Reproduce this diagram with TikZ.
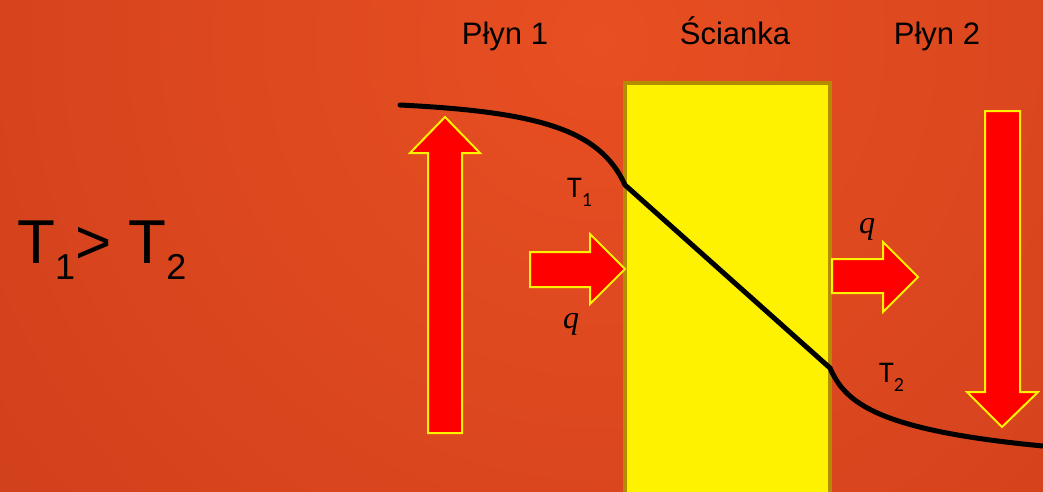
\documentclass[tikz,border=0pt]{standalone}
\usepackage{fontspec}
\setmainfont{Liberation Sans}
\newfontfamily\labelfont{Carlito}
\newfontfamily\fluxfont{Liberation Serif}
\definecolor{bglight}{HTML}{E84F22}
\definecolor{bgdark}{HTML}{BA3216}
\definecolor{wallrim}{HTML}{B48C00}
\newcommand{\bigsub}[1]{\raisebox{-0.26em}{\fontsize{36}{40}\selectfont #1}}
\newcommand{\smallsub}[1]{\raisebox{-0.33em}{\fontsize{20}{24}\selectfont #1}}

\begin{document}
\begin{tikzpicture}[x=1pt, y=-1pt,
  flow/.style={fill=red, draw=yellow, line width=2pt, line join=miter},
  temp/.style={line width=5pt, line cap=round, line join=round},
  head/.style={font=\fontsize{31}{36}\selectfont, anchor=base},
  tlabel/.style={font=\labelfont\fontsize{30}{34}\selectfont, anchor=base west, inner sep=0pt},
  flux/.style={font=\fluxfont\itshape\fontsize{32}{36}\selectfont, anchor=base, inner sep=0pt}]
  \useasboundingbox (0,0) rectangle (1043,491);
  % background
  \begin{scope}
    \clip (0,0) rectangle (1043,491);
    \fill[bgdark] (0,0) rectangle (1043,491);
    \shade[inner color=bglight, outer color=bgdark] (600,40) circle (1500);
  \end{scope}

  % wall
  \draw[fill=yellow, draw=wallrim, line width=4pt] (625,83) rectangle (830,500);

  % fluid streams
  \draw[flow] (428,433) -- (428,153) -- (410,153) -- (445,117) -- (480,153) -- (462,153) -- (462,433) -- cycle;
  \draw[flow] (985,111) -- (985,392) -- (967,392) -- (1002,427) -- (1038,392) -- (1020,392) -- (1020,111) -- cycle;

  % heat flux
  \draw[flow] (530,252) -- (590,252) -- (590,234) -- (625,269) -- (590,304) -- (590,287) -- (530,287) -- cycle;
  \draw[flow] (832,259) -- (883,259) -- (883,242) -- (918,277) -- (883,312) -- (883,293) -- (832,293) -- cycle;

  % temperature profile
  \draw[temp] (400,105) .. controls (540,112) and (600,130) .. (625,185)
    -- (830,368) .. controls (845,402) and (875,430) .. (1043,446);

  \node[head] (fluidA) at (505,44) {Płyn 1};
  \node[head] (wall) at (735,44) {Ścianka};
  \node[head] (fluidB) at (937,44) {Płyn 2};

  \node[anchor=base west, inner sep=0pt, font=\fontsize{62}{70}\selectfont] (cond) at (17,263) {T\bigsub{1}> T\bigsub{2}};

  \node[tlabel] (tA) at (567,197) {T\smallsub{1}};
  \node[tlabel] (tB) at (879,382) {T\smallsub{2}};
  \node[flux] (qA) at (571,328) {q};
  \node[flux] (qB) at (867,233) {q};
\end{tikzpicture}
\end{document}
